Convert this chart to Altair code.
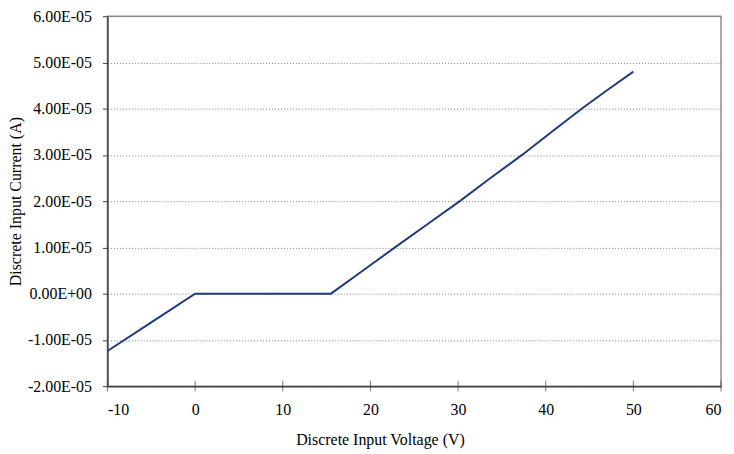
import altair as alt
import pandas as pd

# Data
voltage = [-10, -5, 0, 15.5, 19.0, 22.8, 26.5, 30.2, 33.7, 37.3, 40.7, 44.1, 47.0, 50]
current = [-1.24e-5, -0.62e-5, 0.0, 0.0, 0.48e-5, 1.0e-5, 1.5e-5, 2.0e-5, 2.5e-5, 3.0e-5, 3.5e-5, 4.0e-5, 4.4e-5, 4.8e-5]

x_ticks = [-10, 0, 10, 20, 30, 40, 50, 60]
y_ticks = [-2e-5, -1e-5, 0.0, 1e-5, 2e-5, 3e-5, 4e-5, 5e-5, 6e-5]

df = pd.DataFrame({"v": voltage, "i": current})
ticks_df = pd.DataFrame({"v": x_ticks, "i": [-2e-5] * len(x_ticks)})

FONT = "Liberation Serif"
y_label_expr = ("replace(replace(replace(format(datum.value, '.2e'), 'e-', 'E-0'), 'e+', 'E+0'), '\u2212', '-')")
x_label_expr = "'' + datum.value"

xscale = alt.Scale(domain=[-10, 60], nice=False, zero=False)
yscale = alt.Scale(domain=[-2e-5, 6e-5], nice=False, zero=False)

line = alt.Chart(df).mark_line(color="#1f3b7a", strokeWidth=2).encode(
    x=alt.X("v:Q", scale=xscale,
            axis=alt.Axis(values=x_ticks, labelExpr=x_label_expr,
                          title="Discrete Input Voltage (V)",
                          grid=False, ticks=False, tickSize=0, labelPadding=16,
                          domainColor="#404040", domainWidth=1.5,
                          titleX=274, titleAnchor="start", titleAlign="center",
                          titlePadding=14)),
    y=alt.Y("i:Q", scale=yscale,
            axis=alt.Axis(values=y_ticks, labelExpr=y_label_expr,
                          title="Discrete Input Current (A)",
                          grid=True, gridDash=[1, 2], gridColor="#7f7f7f", gridWidth=1,
                          tickSize=5, tickColor="#404040", labelPadding=11,
                          domainColor="#404040", domainWidth=1.5,
                          titlePadding=4)),
)

xticks = alt.Chart(ticks_df).mark_tick(color="#404040", size=11, thickness=1, orient="vertical").encode(
    x=alt.X("v:Q", scale=xscale),
    y=alt.Y("i:Q", scale=yscale),
)

chart = alt.layer(line, xticks).properties(
    width=617, height=372,
    background="white",
    autosize=alt.AutoSizeParams(type="none"),
    padding={"left": 100, "top": 7, "right": 5, "bottom": 66},
).configure_view(
    stroke="#8c8c8c", strokeWidth=1.5
).configure_axis(
    labelFont=FONT, titleFont=FONT, labelFontSize=16, titleFontSize=16,
    labelColor="#000000", titleColor="#000000", titleFontWeight="normal",
)

chart.save("out.html", embed_options={"renderer": "svg", "actions": False})
